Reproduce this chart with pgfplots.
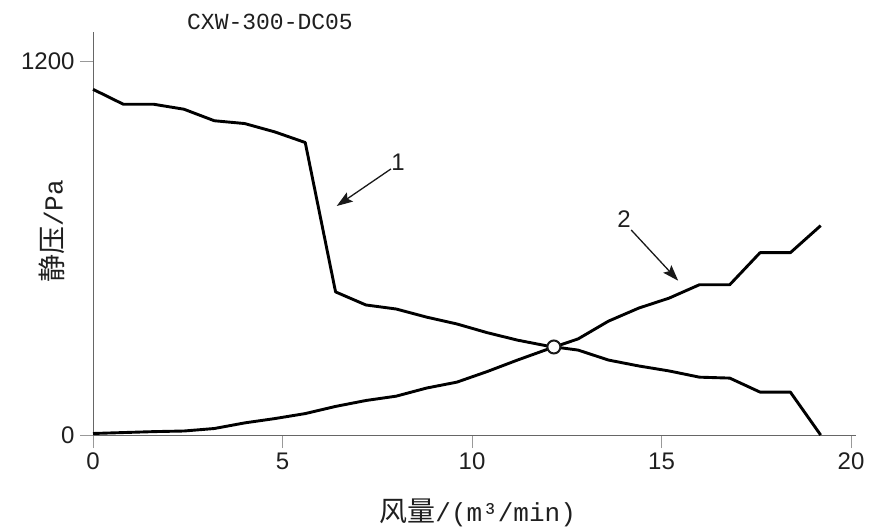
\documentclass[border=0pt]{standalone}
\usepackage{pgfplots}
\pgfplotsset{compat=1.18}
\usepackage{pgfplotstable}
\usetikzlibrary{arrows.meta}
\usepackage{fontspec}
\setmainfont{Liberation Sans}
\newfontfamily\cjk{Noto Sans CJK SC}
\newfontfamily\mono{Liberation Mono}

\pgfplotstableread{
x y
0 1111
0.8 1063
1.6 1063
2.4 1047
3.2 1010
4.0 1001
4.8 974
5.6 940
6.4 460
7.2 418
8.0 405
8.8 379
9.6 357
10.4 329
11.2 305
12.0 286
12.8 273
13.6 241
14.4 222
15.2 206
16.0 186
16.8 183
17.6 138
18.4 138
19.2 0
}\curveone

\pgfplotstableread{
x y
0 5
0.8 8
1.6 11
2.4 13
3.2 21
4.0 39
4.8 53
5.6 69
6.4 92
7.2 111
8.0 125
8.8 151
9.6 170
10.4 204
11.2 241
12.0 276
12.8 309
13.6 366
14.4 408
15.2 440
16.0 483
16.8 483
17.6 586
18.4 586
19.2 673
}\curvetwo

\begin{document}
\begin{tikzpicture}
\begin{axis}[
  scale only axis,
  width=758pt, height=403pt,
  xmin=0, xmax=20, ymin=0, ymax=1295,
  axis x line*=bottom, axis y line*=left,
  xtick={0,5,10,15,20}, ytick={0,1200},
  /pgf/number format/.cd, 1000 sep={}, assume math mode=true, /pgfplots/.cd,
  tick align=outside, major tick length=13pt,
  tick style={color=black!40, line width=0.9pt},
  axis line style={color=black!60, line width=0.9pt},
  x axis line style={shorten >=-5pt},
  tick label style={font=\fontsize{24}{24}\selectfont, text=black!88},
  xticklabel style={yshift=-1pt},
  yticklabel style={xshift=-2pt},
  clip=false,
  xlabel={{\cjk\fontsize{28}{28}\selectfont 风量}{\mono\fontsize{26}{26}\selectfont /(m³/min)}},
  ylabel={{\cjk\fontsize{28}{28}\selectfont 静压}{\mono\fontsize{26}{26}\selectfont /Pa}},
  every axis x label/.style={at={(axis cs:10.15,-251)}, anchor=center, text=black!88},
  every axis y label/.style={at={(axis cs:-1.08,655)}, anchor=center, rotate=90, text=black!88},
]
\path (axis cs:-2.454,-302) rectangle (axis cs:20.554,1398);
\addplot[black, line width=2.9pt, line join=round, mark=none] table[x=x,y=y] {\curveone};
\addplot[black, line width=2.9pt, line join=round, mark=none] table[x=x,y=y] {\curvetwo};
\addplot[only marks, mark=*, mark size=6.5pt, mark options={fill=white, draw=black!90, line width=2pt}] coordinates {(12.16,283)};
\node[font=\mono\fontsize{23}{23}\selectfont, text=black!88] at (axis cs:4.67,1327) {CXW-300-DC05};
\draw[black!90, line width=1.3pt, -{Stealth[length=16pt,width=11pt,inset=3pt]}] (axis cs:7.86,855) -- (axis cs:6.43,736);
\draw[black!90, line width=1.3pt, -{Stealth[length=16pt,width=11pt,inset=3pt]}] (axis cs:14.2,659) -- (axis cs:15.44,496);
\node[font=\fontsize{24}{24}\selectfont, text=black!88] at (axis cs:8.05,877) {1};
\node[font=\fontsize{24}{24}\selectfont, text=black!88] at (axis cs:14.01,694) {2};
\end{axis}
\end{tikzpicture}
\end{document}
